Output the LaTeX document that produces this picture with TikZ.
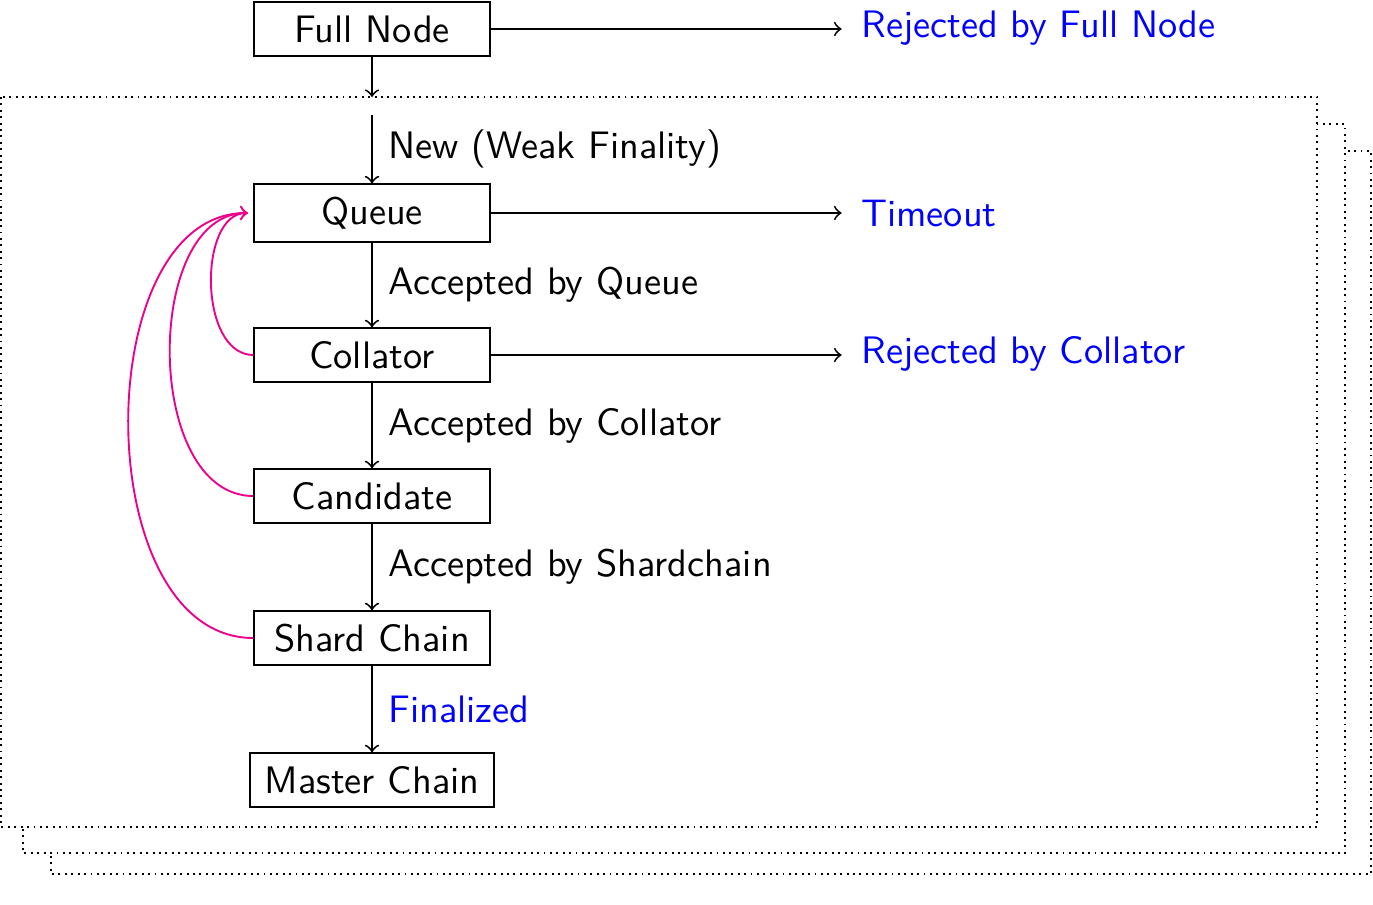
\documentclass[tikz,border=0pt]{standalone}
\usetikzlibrary{arrows}
\definecolor{pinkline}{RGB}{236,0,140}
\begin{document}
\begin{tikzpicture}[x=0.2653pt,y=-0.2653pt,
  font=\sffamily\fontsize{10.16}{12.2}\selectfont,
  box/.style={draw, line width=0.5pt, minimum width=62.4pt, minimum height=14.2pt, inner xsep=3.9pt, fill=white},
  flow/.style={->, line width=0.5pt},
  side/.style={->, line width=0.5pt, shorten >=1.7pt},
  back/.style={->, line width=0.5pt, draw=pinkline, out=180, in=180, shorten >=1.5pt},
  dotbox/.style={line width=0.5pt, dash pattern=on 0.5pt off 1.2pt, fill=white},
  lbl/.style={anchor=west, xshift=0.8pt},
  res/.style={anchor=west, text=blue}]
\useasboundingbox (0,0) rectangle (1373,904);
% stacked dotted frames
\draw[dotbox] (51,151) rectangle (1371,874);
\draw[dotbox] (23,124) rectangle (1345,853);
\draw[dotbox] (1,97) rectangle (1317,827);
\coordinate (ftop) at (372,97);
\coordinate (fin) at (372,115);
% nodes
\node[box] (full) at (372,29) {Full Node};
\node[box] (queue) at (372,213) {Queue};
\node[box] (coll) at (372,355) {Collator};
\node[box] (cand) at (372,496) {Candidate};
\node[box] (shard) at (372,638) {Shard Chain};
\node[box] (master) at (372,780) {Master Chain};
\node[res] (rfull) at (848,28) {Rejected by Full Node};
\node[res] (tout) at (848,214) {Timeout};
\node[res] (rcoll) at (848,354) {Rejected by Collator};
% vertical flow
\draw[flow] (full) -- (ftop);
\draw[flow] (fin) -- node[lbl] {New (Weak Finality)} (queue);
\draw[flow] (queue) -- node[lbl] {Accepted by Queue} (coll);
\draw[flow] (coll) -- node[lbl] {Accepted by Collator} (cand);
\draw[flow] (cand) -- node[lbl] {Accepted by Shardchain} (shard);
\draw[flow] (shard) -- node[lbl, text=blue] {Finalized} (master);
% horizontal
\draw[side] (full.east) -- (full.east -| rfull.west);
\draw[side] (queue.east) -- (queue.east -| tout.west);
\draw[side] (coll.east) -- (coll.east -| rcoll.west);
% feedback
\draw[back] (coll.west) to (queue.west);
\draw[back] (cand.west) to (queue.west);
\draw[back] (shard.west) to (queue.west);
\end{tikzpicture}
\end{document}
